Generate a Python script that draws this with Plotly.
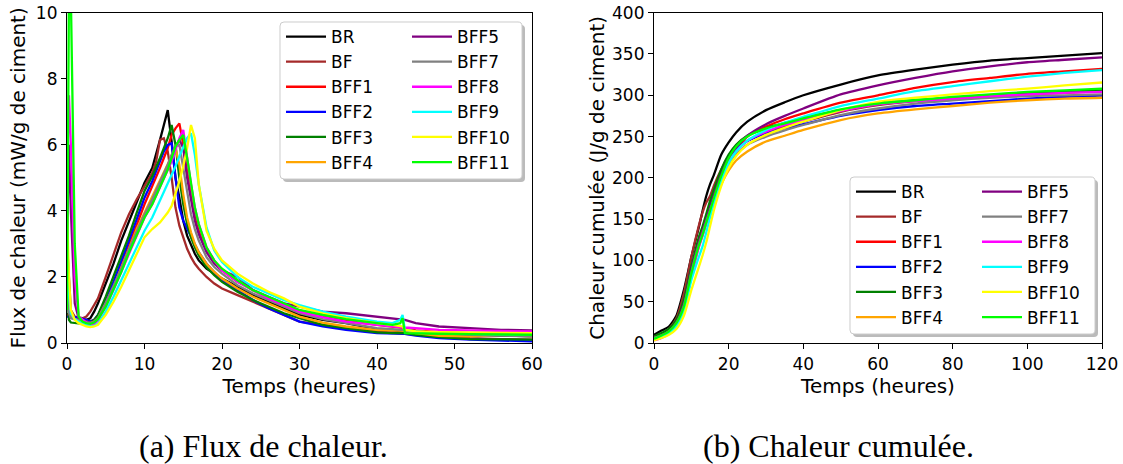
import plotly.graph_objects as go

W, H = 1123, 464


def fx(px):
    return px / W


def fy(py):
    return 1 - py / H


names = ["BR", "BF", "BFF1", "BFF2", "BFF3", "BFF4",
         "BFF5", "BFF7", "BFF8", "BFF9", "BFF10", "BFF11"]
colors = ["#000000", "#a52a2a", "#ff0000", "#0000ff", "#008000", "#ffa500",
          "#800080", "#808080", "#ff00ff", "#00ffff", "#ffff00", "#00ff00"]

# ---- (a) heat flux, mW/g de ciment ----
t_flux = [0, 0.25, 0.5, 1, 1.5, 2, 2.5, 3, 3.5, 4,
          5, 6, 7, 8, 9, 10, 11, 11.5, 12, 12.5,
          13, 13.5, 14, 14.5, 15, 15.5, 16, 16.5, 17, 18,
          19, 20, 22, 24, 26, 28, 30, 33, 36, 40,
          42, 43, 43.3, 43.6, 45, 48, 52, 56, 60]

flux_BR = [0.9, 0.8, 0.8, 0.78, 0.75, 0.72, 0.7, 0.75, 0.95, 1.2,
           1.8, 2.4, 3.1, 3.7, 4.3, 4.85, 5.3, 5.7, 6.15, 6.6,
           7.05, 6.1, 5.0, 4.4, 3.7, 3.25, 2.95, 2.7, 2.5, 2.25,
           2.1, 1.95, 1.7, 1.45, 1.25, 1.05, 0.85, 0.7, 0.6, 0.42,
           0.38, 0.35, 0.35, 0.35, 0.32, 0.28, 0.25, 0.22, 0.2]
flux_BF = [3.0, 2.0, 1.0, 0.8, 0.77, 0.75, 0.8, 0.95, 1.15, 1.35,
           2.0, 2.7, 3.35, 3.9, 4.35, 4.75, 5.15, 5.5, 6.15, 6.2,
           5.8, 5.0, 4.1, 3.55, 3.2, 2.85, 2.6, 2.4, 2.25, 2.0,
           1.8, 1.65, 1.45, 1.25, 1.05, 0.85, 0.65, 0.55, 0.45, 0.35,
           0.3, 0.28, 0.28, 0.28, 0.25, 0.2, 0.15, 0.12, 0.1]
flux_BFF1 = [0.85, 0.82, 0.8, 0.78, 0.75, 0.72, 0.68, 0.65, 0.7, 0.8,
             1.2, 1.75, 2.35, 2.95, 3.6, 4.2, 4.75, 5.0, 5.3, 5.6,
             5.9, 6.3, 6.5, 6.65, 6.0, 5.2, 4.5, 3.9, 3.4, 2.8,
             2.45, 2.2, 1.85, 1.6, 1.35, 1.15, 0.95, 0.8, 0.68, 0.55,
             0.5, 0.48, 0.48, 0.45, 0.38, 0.33, 0.3, 0.3, 0.3]
flux_BFF2 = [0.8, 0.8, 0.78, 0.78, 0.76, 0.74, 0.7, 0.65, 0.7, 0.85,
             1.3, 1.85, 2.45, 3.1, 3.75, 4.4, 4.9, 5.2, 5.5, 5.8,
             6.0, 6.05, 5.0, 4.1, 3.7, 3.45, 3.2, 2.95, 2.75, 2.4,
             2.15, 1.9, 1.6, 1.3, 1.05, 0.85, 0.65, 0.5, 0.4, 0.3,
             0.28, 0.28, 0.28, 0.28, 0.22, 0.15, 0.1, 0.07, 0.05]
flux_BFF3 = [1.8, 0.7, 0.62, 0.6, 0.6, 0.58, 0.58, 0.6, 0.7, 0.85,
             1.4, 2.0, 2.65, 3.25, 3.95, 4.6, 5.05, 5.3, 5.6, 5.9,
             6.2, 6.6, 6.0, 5.0, 4.2, 3.6, 3.2, 2.9, 2.65, 2.3,
             2.05, 1.85, 1.55, 1.3, 1.1, 0.9, 0.75, 0.55, 0.45, 0.32,
             0.3, 0.3, 0.3, 0.3, 0.25, 0.18, 0.12, 0.1, 0.1]
flux_BFF4 = [2.5, 1.2, 0.8, 0.72, 0.7, 0.68, 0.65, 0.6, 0.65, 0.75,
             1.2, 1.7, 2.25, 2.85, 3.45, 3.95, 4.4, 4.65, 4.9, 5.15,
             5.4, 5.65, 5.9, 5.4, 4.5, 3.8, 3.35, 3.0, 2.75, 2.4,
             2.15, 1.95, 1.65, 1.4, 1.2, 1.0, 0.8, 0.62, 0.5, 0.4,
             0.38, 0.37, 0.37, 0.37, 0.3, 0.22, 0.2, 0.25, 0.2]
flux_BFF5 = [3.0, 6.0, 4.0, 1.2, 0.75, 0.7, 0.65, 0.6, 0.62, 0.72,
             1.15, 1.65, 2.2, 2.8, 3.35, 3.85, 4.3, 4.55, 4.8, 5.05,
             5.35, 5.65, 5.95, 6.15, 5.9, 5.0, 4.3, 3.7, 3.3, 2.75,
             2.4, 2.2, 2.0, 1.6, 1.4, 1.2, 1.1, 0.95, 0.9, 0.8,
             0.75, 0.72, 0.72, 0.7, 0.6, 0.5, 0.45, 0.4, 0.38]
flux_BFF7 = [1.5, 0.9, 0.75, 0.72, 0.7, 0.68, 0.64, 0.6, 0.65, 0.75,
             1.2, 1.7, 2.25, 2.85, 3.4, 3.9, 4.35, 4.6, 4.85, 5.1,
             5.4, 5.7, 5.95, 6.0, 5.3, 4.5, 3.9, 3.45, 3.1, 2.6,
             2.3, 2.1, 1.75, 1.5, 1.3, 1.1, 0.9, 0.72, 0.6, 0.45,
             0.42, 0.4, 0.4, 0.4, 0.35, 0.3, 0.25, 0.22, 0.2]
flux_BFF8 = [5.0, 7.5, 6.0, 2.0, 0.8, 0.7, 0.62, 0.55, 0.58, 0.68,
             1.1, 1.6, 2.15, 2.75, 3.3, 3.8, 4.2, 4.45, 4.7, 4.95,
             5.2, 5.5, 5.85, 6.2, 6.45, 5.6, 4.8, 4.1, 3.6, 2.9,
             2.5, 2.2, 1.85, 1.6, 1.35, 1.15, 0.95, 0.78, 0.65, 0.55,
             0.5, 0.48, 0.48, 0.47, 0.45, 0.4, 0.38, 0.36, 0.35]
flux_BFF9 = [3.5, 1.5, 0.9, 0.72, 0.65, 0.6, 0.55, 0.5, 0.52, 0.58,
             0.95, 1.4, 1.9, 2.4, 2.9, 3.4, 3.8, 4.05, 4.3, 4.55,
             4.8, 5.05, 5.35, 5.65, 5.95, 6.2, 6.35, 5.7, 4.8, 3.5,
             2.8, 2.45, 2.0, 1.7, 1.5, 1.3, 1.15, 0.95, 0.8, 0.65,
             0.6, 0.7, 0.85, 0.4, 0.35, 0.3, 0.28, 0.26, 0.25]
flux_BFF10 = [4.0, 2.0, 1.0, 0.7, 0.6, 0.55, 0.5, 0.48, 0.5, 0.55,
              0.85, 1.25, 1.7, 2.2, 2.7, 3.2, 3.45, 3.55, 3.65, 3.8,
              3.95, 4.15, 4.5, 4.9, 5.35, 5.9, 6.6, 6.2, 4.8, 3.4,
              2.85, 2.5, 2.1, 1.8, 1.55, 1.35, 1.1, 0.9, 0.75, 0.6,
              0.55, 0.52, 0.5, 0.4, 0.35, 0.33, 0.32, 0.3, 0.3]
flux_BFF11 = [1.0, 10.5, 10.5, 3.0, 0.8, 0.65, 0.6, 0.58, 0.62, 0.72,
              1.1, 1.6, 2.15, 2.75, 3.3, 3.8, 4.2, 4.45, 4.7, 4.95,
              5.25, 5.6, 5.95, 6.15, 6.3, 5.6, 4.8, 4.1, 3.6, 2.9,
              2.5, 2.25, 1.9, 1.6, 1.4, 1.2, 1.0, 0.85, 0.72, 0.6,
              0.55, 0.6, 0.75, 0.3, 0.3, 0.28, 0.27, 0.26, 0.25]

# ---- (b) cumulative heat, J/g de ciment ----
t_cum = [0, 2, 4, 6, 8, 10, 12, 13, 14, 15, 16, 18, 20,
         22, 25, 30, 35, 40, 50, 60, 70, 80, 90, 100, 110, 120]

cum_BR = [10, 15, 20, 33, 64, 104, 140, 160, 178, 192, 203, 228, 243,
          255, 268, 282, 291.5, 300, 313, 324, 331, 337, 342, 345, 348, 351]
cum_BF = [7, 11, 17, 30, 60, 104, 142, 158, 170, 178, 190, 210, 226,
          236, 245, 255, 262, 268, 280, 288, 293, 296, 299, 301, 303, 305]
cum_BFF1 = [7, 10, 15, 25, 47, 88, 122, 135, 150, 163, 176, 203, 224,
            235, 250, 262, 271, 278, 291, 300, 309, 316, 321, 326, 329, 332]
cum_BFF2 = [7, 10, 15, 26, 49, 90, 124, 138, 153, 166, 180, 204, 222,
            234, 244.5, 254, 260, 265, 275, 282, 287, 290, 293, 296, 298, 299.5]
cum_BFF3 = [8, 12, 17, 28, 52, 92, 128, 141, 156, 172, 185, 210, 228,
            240, 251, 260, 266.5, 272, 282, 289, 294, 297, 300, 302.5, 304, 306]
cum_BFF4 = [6, 9, 14, 23, 43, 82, 116, 130, 144, 158, 170, 192, 209,
            221, 232, 244, 251, 258, 270, 278, 283, 287, 291, 294, 296, 297]
cum_BFF5 = [6, 9, 14, 25, 47, 88, 122, 136, 150, 164, 178, 204, 224,
            237, 251, 265, 275, 284, 301, 312, 321, 329, 335, 340, 343, 346]
cum_BFF7 = [6, 9, 14, 24, 45, 85, 119, 133, 147, 160, 173, 197, 216,
            228, 240, 250, 257.5, 264, 276, 284, 290, 294, 297, 299, 300, 301]
cum_BFF8 = [3, 6, 11, 20, 40, 80, 116, 130, 145, 159, 173, 198, 219,
            232, 245, 256, 264, 270, 281, 289, 293, 296, 299, 301, 303, 304]
cum_BFF9 = [5, 8, 12, 20, 38, 76, 104, 117, 134, 152, 168, 196, 218,
            232, 245, 258, 267, 274, 287, 296, 305, 311, 317, 322.5, 327, 330.5]
cum_BFF10 = [3, 6, 10, 17, 33, 64, 92, 106, 122, 141, 160, 190, 212,
             226.5, 240, 252, 260.5, 268, 282, 292, 297, 301, 305, 308, 312, 315.5]
cum_BFF11 = [5, 9, 14, 24, 44, 84, 118, 131, 146, 160, 175, 202, 224,
             238, 250, 260, 266, 272, 283, 290, 294, 298, 301, 304, 306, 308]

flux_all = [flux_BR, flux_BF, flux_BFF1, flux_BFF2, flux_BFF3, flux_BFF4,
            flux_BFF5, flux_BFF7, flux_BFF8, flux_BFF9, flux_BFF10, flux_BFF11]
cum_all = [cum_BR, cum_BF, cum_BFF1, cum_BFF2, cum_BFF3, cum_BFF4,
           cum_BFF5, cum_BFF7, cum_BFF8, cum_BFF9, cum_BFF10, cum_BFF11]

x_ticks_a = [0, 10, 20, 30, 40, 50, 60]
y_ticks_a = [0, 2, 4, 6, 8, 10]
x_ticks_b = [0, 20, 40, 60, 80, 100, 120]
y_ticks_b = [0, 50, 100, 150, 200, 250, 300, 350, 400]

FONT = "DejaVu Sans"
fig = go.Figure()

for i, (n, c) in enumerate(zip(names, colors)):
    leg = "legend" if i < 6 else "legend2"
    fig.add_trace(go.Scatter(x=t_flux, y=flux_all[i], mode="lines", name=n,
                             line=dict(color=c, width=2.3), legend=leg,
                             xaxis="x", yaxis="y"))
for i, (n, c) in enumerate(zip(names, colors)):
    leg = "legend3" if i < 6 else "legend4"
    fig.add_trace(go.Scatter(x=t_cum, y=cum_all[i], mode="lines", name=n,
                             line=dict(color=c, width=2.3, shape="spline", smoothing=0.6),
                             legend=leg, xaxis="x2", yaxis="y2"))

ydom = [fy(343), fy(12.7)]
axis_common = dict(showline=True, linecolor="black", linewidth=1.2, mirror=True,
                   ticks="outside", ticklen=5, tickwidth=1, tickcolor="black",
                   showgrid=False, zeroline=False, automargin=False,
                   ticklabeloverflow="allow",
                   tickfont=dict(family=FONT, size=17, color="black"))
title_font = dict(family=FONT, size=20, color="black")

fig.update_layout(
    width=W, height=H,
    margin=dict(l=0, r=0, t=0, b=0),
    paper_bgcolor="white", plot_bgcolor="white",
    showlegend=True,
    xaxis=dict(domain=[fx(67), fx(532)], range=[0, 60], tickvals=x_ticks_a, anchor="y",
               title=dict(text="Temps (heures)", standoff=0, font=title_font),
               **axis_common),
    yaxis=dict(domain=ydom, range=[0, 10], tickvals=y_ticks_a, anchor="x",
               title=dict(text="Flux de chaleur (mW/g de ciment)", standoff=4,
                          font=title_font),
               **axis_common),
    xaxis2=dict(domain=[fx(654), fx(1102)], range=[0, 120], tickvals=x_ticks_b, anchor="y2",
                title=dict(text="Temps (heures)", standoff=0, font=title_font),
                **axis_common),
    yaxis2=dict(domain=ydom, range=[0, 400], tickvals=y_ticks_b, anchor="x2",
                title=dict(text="Chaleur cumulée (J/g de ciment)", standoff=2,
                           font=title_font),
                **axis_common),
)

leg_common = dict(bgcolor="rgba(0,0,0,0)", borderwidth=0, xanchor="left", yanchor="top",
                  font=dict(family=FONT, size=17, color="black"), tracegroupgap=0,
                  itemwidth=40)
fig.update_layout(
    legend=dict(x=fx(281), y=fy(19), **leg_common),
    legend2=dict(x=fx(407), y=fy(19), **leg_common),
    legend3=dict(x=fx(851), y=fy(174), **leg_common),
    legend4=dict(x=fx(977), y=fy(174), **leg_common),
)


def rounded(x0, y0, x1, y1, r=4):
    def P(x, y):
        return f"{fx(x):.5f},{fy(y):.5f}"
    return (f"M{P(x0 + r, y0)} L{P(x1 - r, y0)} Q{P(x1, y0)} {P(x1, y0 + r)} "
            f"L{P(x1, y1 - r)} Q{P(x1, y1)} {P(x1 - r, y1)} L{P(x0 + r, y1)} "
            f"Q{P(x0, y1)} {P(x0, y1 - r)} L{P(x0, y0 + r)} Q{P(x0, y0)} {P(x0 + r, y0)} Z")


shapes = []
for (x0, y0, x1, y1) in [(280, 22, 522, 179), (850, 177, 1095, 334)]:
    shapes.append(dict(type="path", path=rounded(x0 + 3, y0 + 3, x1 + 3, y1 + 3),
                       xref="paper", yref="paper", fillcolor="rgba(120,120,120,0.5)",
                       line=dict(width=0), layer="above"))
    shapes.append(dict(type="path", path=rounded(x0, y0, x1, y1),
                       xref="paper", yref="paper", fillcolor="white",
                       line=dict(color="#cccccc", width=1), layer="above"))
fig.update_layout(shapes=shapes)

cap_font = dict(family="Liberation Serif", size=32, color="black")
fig.add_annotation(text="(a) Flux de chaleur.", x=fx(263), y=fy(446), xref="paper",
                   yref="paper", showarrow=False, xanchor="center", yanchor="middle",
                   font=cap_font)
fig.add_annotation(text="(b) Chaleur cumulée.", x=fx(838), y=fy(446), xref="paper",
                   yref="paper", showarrow=False, xanchor="center", yanchor="middle",
                   font=cap_font)

fig.write_html("out.html", config={"displayModeBar": False},
               post_script="document.body.style.margin='0px';document.body.style.overflow='hidden';")
